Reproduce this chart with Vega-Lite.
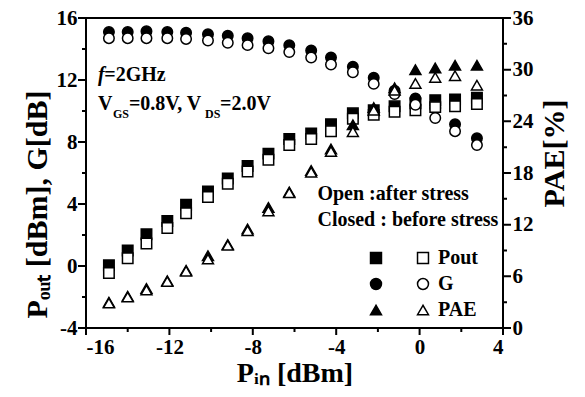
{
  "$schema": "https://vega.github.io/schema/vega-lite/v6.json",
  "width": 417,
  "height": 310,
  "autosize": "none",
  "padding": {"left": 86, "top": 18, "right": 82, "bottom": 69},
  "background": "white",
  "config": {
    "view": {"stroke": null},
    "font": "Liberation Serif",
    "axis": {
      "domain": false, "ticks": true, "tickOpacity": 0, "tickSize": 7,
      "labelFont": "Liberation Serif", "labelFontSize": 21, "labelFontWeight": "bold", "labelColor": "#000000",
      "titleFont": "Liberation Serif", "titleFontSize": 28, "titleFontWeight": "bold", "titleColor": "#000000",
      "grid": false, "labelPadding": 1
    },
    "legend": {
      "orient": "none", "legendX": 280, "legendY": 230, "columns": 2,
      "symbolSize": 120,
      "labelFont": "Liberation Serif", "labelFontSize": 20, "labelFontWeight": "bold", "labelColor": "black",
      "rowPadding": 6, "columnPadding": 22, "labelOffset": 5
    }
  },
  "datasets": {
    "pts": [
      {"x": -14.9, "v": 0.05, "s": "Pout-closed"}, {"x": -14.0, "v": 1.0, "s": "Pout-closed"}, {"x": -13.1, "v": 2.05, "s": "Pout-closed"}, {"x": -12.1, "v": 2.9, "s": "Pout-closed"}, {"x": -11.2, "v": 3.95, "s": "Pout-closed"}, {"x": -10.15, "v": 4.8, "s": "Pout-closed"}, {"x": -9.2, "v": 5.65, "s": "Pout-closed"}, {"x": -8.25, "v": 6.45, "s": "Pout-closed"}, {"x": -7.25, "v": 7.25, "s": "Pout-closed"}, {"x": -6.25, "v": 8.2, "s": "Pout-closed"}, {"x": -5.2, "v": 8.55, "s": "Pout-closed"}, {"x": -4.25, "v": 9.15, "s": "Pout-closed"}, {"x": -3.2, "v": 9.85, "s": "Pout-closed"}, {"x": -2.2, "v": 10.05, "s": "Pout-closed"}, {"x": -1.2, "v": 10.3, "s": "Pout-closed"}, {"x": -0.2, "v": 10.5, "s": "Pout-closed"}, {"x": 0.75, "v": 10.7, "s": "Pout-closed"}, {"x": 1.7, "v": 10.75, "s": "Pout-closed"}, {"x": 2.75, "v": 10.85, "s": "Pout-closed"},
      {"x": -14.9, "v": 15.1, "s": "G-closed"}, {"x": -14.0, "v": 15.1, "s": "G-closed"}, {"x": -13.1, "v": 15.15, "s": "G-closed"}, {"x": -12.1, "v": 15.1, "s": "G-closed"}, {"x": -11.2, "v": 15.05, "s": "G-closed"}, {"x": -10.15, "v": 14.95, "s": "G-closed"}, {"x": -9.2, "v": 14.85, "s": "G-closed"}, {"x": -8.25, "v": 14.7, "s": "G-closed"}, {"x": -7.25, "v": 14.5, "s": "G-closed"}, {"x": -6.25, "v": 14.25, "s": "G-closed"}, {"x": -5.2, "v": 13.9, "s": "G-closed"}, {"x": -4.25, "v": 13.45, "s": "G-closed"}, {"x": -3.2, "v": 12.85, "s": "G-closed"}, {"x": -2.2, "v": 12.15, "s": "G-closed"}, {"x": -1.2, "v": 11.3, "s": "G-closed"}, {"x": -0.2, "v": 10.8, "s": "G-closed"}, {"x": 0.75, "v": 10.2, "s": "G-closed"}, {"x": 1.7, "v": 9.15, "s": "G-closed"}, {"x": 2.75, "v": 8.25, "s": "G-closed"},
      {"x": -14.9, "v": -0.45, "s": "Pout-open"}, {"x": -14.0, "v": 0.5, "s": "Pout-open"}, {"x": -13.1, "v": 1.45, "s": "Pout-open"}, {"x": -12.1, "v": 2.45, "s": "Pout-open"}, {"x": -11.2, "v": 3.4, "s": "Pout-open"}, {"x": -10.15, "v": 4.45, "s": "Pout-open"}, {"x": -9.2, "v": 5.3, "s": "Pout-open"}, {"x": -8.25, "v": 6.1, "s": "Pout-open"}, {"x": -7.25, "v": 6.85, "s": "Pout-open"}, {"x": -6.25, "v": 7.8, "s": "Pout-open"}, {"x": -5.2, "v": 8.2, "s": "Pout-open"}, {"x": -4.25, "v": 8.7, "s": "Pout-open"}, {"x": -3.2, "v": 9.5, "s": "Pout-open"}, {"x": -2.2, "v": 9.75, "s": "Pout-open"}, {"x": -1.2, "v": 9.95, "s": "Pout-open"}, {"x": -0.2, "v": 10.05, "s": "Pout-open"}, {"x": 0.75, "v": 10.25, "s": "Pout-open"}, {"x": 1.7, "v": 10.3, "s": "Pout-open"}, {"x": 2.75, "v": 10.45, "s": "Pout-open"},
      {"x": -14.9, "v": 14.7, "s": "G-open"}, {"x": -14.0, "v": 14.7, "s": "G-open"}, {"x": -13.1, "v": 14.7, "s": "G-open"}, {"x": -12.1, "v": 14.7, "s": "G-open"}, {"x": -11.2, "v": 14.65, "s": "G-open"}, {"x": -10.15, "v": 14.55, "s": "G-open"}, {"x": -9.2, "v": 14.4, "s": "G-open"}, {"x": -8.25, "v": 14.25, "s": "G-open"}, {"x": -7.25, "v": 14.05, "s": "G-open"}, {"x": -6.25, "v": 13.8, "s": "G-open"}, {"x": -5.2, "v": 13.45, "s": "G-open"}, {"x": -4.25, "v": 13.0, "s": "G-open"}, {"x": -3.2, "v": 12.5, "s": "G-open"}, {"x": -2.2, "v": 11.75, "s": "G-open"}, {"x": -1.2, "v": 11.1, "s": "G-open"}, {"x": -0.2, "v": 10.4, "s": "G-open"}, {"x": 0.75, "v": 9.55, "s": "G-open"}, {"x": 1.7, "v": 8.7, "s": "G-open"}, {"x": 2.75, "v": 7.8, "s": "G-open"}
    ],
    "pae": [
      {"x": -14.9, "v": 3.0, "s": "PAE-closed"}, {"x": -14.0, "v": 3.7, "s": "PAE-closed"}, {"x": -13.1, "v": 4.6, "s": "PAE-closed"}, {"x": -12.1, "v": 5.5, "s": "PAE-closed"}, {"x": -11.2, "v": 6.7, "s": "PAE-closed"}, {"x": -10.15, "v": 8.4, "s": "PAE-closed"}, {"x": -9.2, "v": 9.7, "s": "PAE-closed"}, {"x": -8.25, "v": 11.5, "s": "PAE-closed"}, {"x": -7.25, "v": 14.0, "s": "PAE-closed"}, {"x": -6.25, "v": 15.8, "s": "PAE-closed"}, {"x": -5.2, "v": 18.3, "s": "PAE-closed"}, {"x": -4.25, "v": 20.8, "s": "PAE-closed"}, {"x": -3.2, "v": 23.6, "s": "PAE-closed"}, {"x": -2.2, "v": 25.6, "s": "PAE-closed"}, {"x": -1.2, "v": 27.9, "s": "PAE-closed"}, {"x": -0.2, "v": 30.0, "s": "PAE-closed"}, {"x": 0.75, "v": 30.2, "s": "PAE-closed"}, {"x": 1.7, "v": 30.5, "s": "PAE-closed"}, {"x": 2.75, "v": 30.5, "s": "PAE-closed"},
      {"x": -14.9, "v": 2.9, "s": "PAE-open"}, {"x": -14.0, "v": 3.6, "s": "PAE-open"}, {"x": -13.1, "v": 4.4, "s": "PAE-open"}, {"x": -12.1, "v": 5.4, "s": "PAE-open"}, {"x": -11.2, "v": 6.6, "s": "PAE-open"}, {"x": -10.15, "v": 8.0, "s": "PAE-open"}, {"x": -9.2, "v": 9.6, "s": "PAE-open"}, {"x": -8.25, "v": 11.3, "s": "PAE-open"}, {"x": -7.25, "v": 13.6, "s": "PAE-open"}, {"x": -6.25, "v": 15.7, "s": "PAE-open"}, {"x": -5.2, "v": 18.1, "s": "PAE-open"}, {"x": -4.25, "v": 20.5, "s": "PAE-open"}, {"x": -3.2, "v": 22.8, "s": "PAE-open"}, {"x": -2.2, "v": 25.3, "s": "PAE-open"}, {"x": -1.2, "v": 27.6, "s": "PAE-open"}, {"x": -0.2, "v": 28.4, "s": "PAE-open"}, {"x": 0.75, "v": 29.1, "s": "PAE-open"}, {"x": 1.7, "v": 29.3, "s": "PAE-open"}, {"x": 2.75, "v": 28.2, "s": "PAE-open"}
    ],
    "notes": [
      {"x": -15.12, "y": 11.94, "t": "=2GHz"},
      {"x": -15.43, "y": 10.06, "t": "V"},
      {"x": -13.94, "y": 10.06, "t": "=0.8V, V"},
      {"x": -9.57, "y": 10.06, "t": "=2.0V"},
      {"x": -4.9, "y": 4.26, "t": "Open :after stress"},
      {"x": -4.9, "y": 2.58, "t": "Closed : before stress"}
    ],
    "ital": [{"x": -15.43, "y": 11.94, "t": "f"}],
    "subs": [
      {"x": -14.71, "y": 9.55, "t": "GS"},
      {"x": -10.29, "y": 9.55, "t": "DS"}
    ],
    "one": [{}]
  },
  "layer": [
    {
      "data": {"name": "pts"},
      "mark": {"type": "point", "filled": true, "stroke": "black", "strokeWidth": 1.5, "size": 110, "opacity": 1},
      "encoding": {
        "x": {"field": "x", "type": "quantitative", "scale": {"domain": [-16, 4], "nice": false, "zero": false},
          "axis": {"title": "Pᵢₙ [dBm]", "values": [-16, -14, -12, -10, -8, -6, -4, -2, 0, 2, 4], "labelExpr": "datum.value % 4 === 0 ? '' + datum.value : ''", "titlePadding": 2}},
        "y": {"field": "v", "type": "quantitative", "scale": {"domain": [-4, 16], "nice": false, "zero": false},
          "axis": {"orient": "left", "title": "Pₒᵤₜ [dBm], G[dB]", "titleFontSize": 30, "values": [-4, -2, 0, 2, 4, 6, 8, 10, 12, 14, 16], "labelExpr": "datum.value % 4 === 0 ? '' + datum.value : ''", "labelPadding": 2, "titlePadding": 4, "titleY": 186}},
        "shape": {"field": "s", "type": "nominal", "scale": {"domain": ["Pout-closed", "G-closed", "PAE-closed", "Pout-open", "G-open", "PAE-open"], "range": ["square", "circle", "triangle-up", "square", "circle", "triangle-up"]},
          "legend": {"title": null, "labelExpr": "test(/closed/, datum.value) ? '' : replace(datum.value, '-open', '')"}},
        "fill": {"field": "s", "type": "nominal", "scale": {"domain": ["Pout-closed", "G-closed", "PAE-closed", "Pout-open", "G-open", "PAE-open"], "range": ["black", "black", "black", "white", "white", "white"]},
          "legend": {"title": null, "labelExpr": "test(/closed/, datum.value) ? '' : replace(datum.value, '-open', '')"}}
      }
    },
    {
      "data": {"name": "pae"},
      "mark": {"type": "point", "filled": true, "stroke": "black", "strokeWidth": 1.5, "size": 120, "opacity": 1},
      "encoding": {
        "x": {"field": "x", "type": "quantitative", "scale": {"domain": [-16, 4], "nice": false, "zero": false}},
        "y": {"field": "v", "type": "quantitative", "scale": {"domain": [0, 36], "nice": false, "zero": false},
          "axis": {"orient": "right", "title": "PAE[%]", "titleFontSize": 30, "titleAngle": 270, "titleBaseline": "top", "titleY": 135, "values": [0, 3, 6, 9, 12, 15, 18, 21, 24, 27, 30, 33, 36], "labelExpr": "datum.value % 6 === 0 ? '' + datum.value : ''", "labelPadding": 2, "titlePadding": 6}},
        "shape": {"field": "s", "type": "nominal"},
        "fill": {"field": "s", "type": "nominal"}
      }
    },
    {
      "data": {"name": "one"},
      "mark": {
        "type": "point", "filled": false, "stroke": "black", "strokeWidth": 2, "opacity": 1, "size": 173889,
        "shape": "M-1,-0.7434L1,-0.7434L1,0.7434L-1,0.7434Z M-1,0.7434L-1,0.777M-0.6,0.7434L-0.6,0.777M-0.2,0.7434L-0.2,0.777M0.2,0.7434L0.2,0.777M0.6,0.7434L0.6,0.777M1,0.7434L1,0.777M-0.8,0.7434L-0.8,0.7626M-0.4,0.7434L-0.4,0.7626M0,0.7434L0,0.7626M0.4,0.7434L0.4,0.7626M0.8,0.7434L0.8,0.7626M-1,0.7434L-1.0384,0.7434M-1,0.446L-1.0384,0.446M-1,0.1487L-1.0384,0.1487M-1,-0.1487L-1.0384,-0.1487M-1,-0.446L-1.0384,-0.446M-1,-0.7434L-1.0384,-0.7434M-1,0.5947L-1.0192,0.5947M-1,0.2974L-1.0192,0.2974M-1,0L-1.0192,0M-1,-0.2974L-1.0192,-0.2974M-1,-0.5947L-1.0192,-0.5947M1,0.7434L1.0384,0.7434M1,0.4956L1.0384,0.4956M1,0.2478L1.0384,0.2478M1,0L1.0384,0M1,-0.2478L1.0384,-0.2478M1,-0.4956L1.0384,-0.4956M1,-0.7434L1.0384,-0.7434M1,0.6195L1.0192,0.6195M1,0.3717L1.0192,0.3717M1,0.1239L1.0192,0.1239M1,-0.1239L1.0192,-0.1239M1,-0.3717L1.0192,-0.3717M1,-0.6195L1.0192,-0.6195"
      },
      "encoding": {
        "x": {"datum": -6, "type": "quantitative", "scale": {"domain": [-16, 4], "nice": false, "zero": false}},
        "y": {"datum": 6, "type": "quantitative", "scale": {"domain": [-4, 16], "nice": false, "zero": false}, "axis": null}
      }
    },
    {
      "data": {"name": "notes"},
      "mark": {"type": "text", "align": "left", "baseline": "alphabetic", "fontSize": 20, "fontWeight": "bold", "font": "Liberation Serif", "color": "black"},
      "encoding": {
        "x": {"field": "x", "type": "quantitative", "scale": {"domain": [-16, 4], "nice": false, "zero": false}},
        "y": {"field": "y", "type": "quantitative", "scale": {"domain": [-4, 16], "nice": false, "zero": false}, "axis": null},
        "text": {"field": "t"}
      }
    },
    {
      "data": {"name": "ital"},
      "mark": {"type": "text", "align": "left", "baseline": "alphabetic", "fontSize": 20, "fontWeight": "bold", "fontStyle": "italic", "font": "Liberation Serif", "color": "black"},
      "encoding": {
        "x": {"field": "x", "type": "quantitative", "scale": {"domain": [-16, 4], "nice": false, "zero": false}},
        "y": {"field": "y", "type": "quantitative", "scale": {"domain": [-4, 16], "nice": false, "zero": false}, "axis": null},
        "text": {"field": "t"}
      }
    },
    {
      "data": {"name": "subs"},
      "mark": {"type": "text", "align": "left", "baseline": "alphabetic", "fontSize": 12, "fontWeight": "bold", "font": "Liberation Serif", "color": "black"},
      "encoding": {
        "x": {"field": "x", "type": "quantitative", "scale": {"domain": [-16, 4], "nice": false, "zero": false}},
        "y": {"field": "y", "type": "quantitative", "scale": {"domain": [-4, 16], "nice": false, "zero": false}, "axis": null},
        "text": {"field": "t"}
      }
    }
  ],
  "resolve": {"scale": {"y": "independent"}}
}
